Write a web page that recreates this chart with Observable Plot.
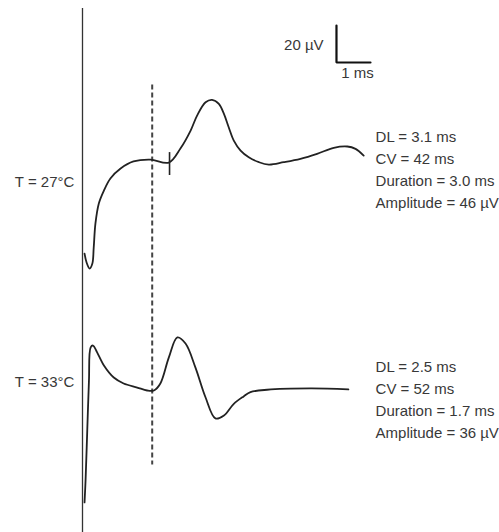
<!DOCTYPE html>
<html>
<head>
<meta charset="utf-8">
<script src="https://cdn.jsdelivr.net/npm/d3@7"></script>
<script src="https://cdn.jsdelivr.net/npm/@observablehq/plot@0.6"></script>
<style>
  html, body { margin: 0; padding: 0; background: #fff; }
</style>
</head>
<body>
<div id="chart"></div>
<script>
// Trace recorded at T = 27°C (time in ms, amplitude in µV relative to baseline)
const t27 = [0.06, 0.12, 0.21, 0.29, 0.33, 0.38, 0.48, 0.63, 0.82, 1.12, 1.50, 2.00, 2.54, 2.88, 3.18, 3.37, 3.62, 3.81, 4.01, 4.16, 4.30, 4.45, 4.65, 4.89, 5.19, 5.48, 5.92, 6.41, 6.90, 7.39, 7.79, 8.03, 8.27];
const v27 = [-50.3, -55.1, -58.4, -55.7, -47.0, -34.1, -23.2, -16.2, -9.7, -4.3, -0.5, 0.5, -1.1, 6.5, 16.2, 24.3, 31.5, 32.8, 30.6, 25.2, 18.0, 10.8, 5.4, 1.8, -0.9, -2.2, -0.9, 0.9, 3.6, 6.9, 7.6, 6.3, 2.7];

// Trace recorded at T = 33°C
const t33 = [0.06, 0.09, 0.14, 0.19, 0.24, 0.31, 0.43, 0.63, 0.92, 1.21, 1.61, 1.90, 2.10, 2.29, 2.54, 2.79, 3.03, 3.32, 3.62, 3.91, 4.16, 4.45, 4.74, 4.94, 5.43, 6.71, 7.82];
const v33 = [-61.6, -49.7, -22.7, 4.3, 22.2, 23.2, 19.5, 12.4, 5.9, 2.7, 0.5, -1.1, -1.1, 2.7, 16.8, 27.6, 24.3, 11.4, -4.9, -16.2, -14.6, -8.3, -4.3, -2.0, -0.7, 0, -0.5];

const traceLabels = ["T = 27°C", "T = 33°C"];
const traceStats = [
  ["DL = 3.1 ms", "CV = 42 ms", "Duration = 3.0 ms", "Amplitude = 46 µV"],
  ["DL = 2.5 ms", "CV = 52 ms", "Duration = 1.7 ms", "Amplitude = 36 µV"]
];
const onsetTime = [2.05];      // dashed reference line (ms)
const markerTime27 = [2.56];   // small tick on the 27°C trace (ms)
const scaleBarMs = 1, scaleBarUV = 20;
const scaleBarLabels = ["20 µV", "1 ms"];

// layout (display offsets, µV units of the y scale)
const offsets = [61.6, -61.6];
const pxPerMs = 34, pxPerUV = 1.85, originX = 82, originY = 274;

const rows27 = t27.map((t, i) => ({t, v: v27[i] + offsets[0]}));
const rows33 = t33.map((t, i) => ({t, v: v33[i] + offsets[1]}));
const sbX = 7.47, sbY = 114.6;
const scaleBar = [
  {t: sbX, v: sbY + scaleBarUV},
  {t: sbX, v: sbY},
  {t: sbX + scaleBarMs, v: sbY}
];

const font = "'Liberation Sans', Arial, sans-serif";
const txt = "#383838";

const chart = Plot.plot({
  width: 499,
  height: 532,
  margin: 0,
  style: {fontFamily: font, fontSize: "15px", background: "#fff", color: txt},
  x: {axis: null, domain: [-2.5, 12.5], range: [originX - 2.5 * pxPerMs, originX + 12.5 * pxPerMs]},
  y: {axis: null, domain: [-150, 150], range: [originY + 150 * pxPerUV, originY - 150 * pxPerUV]},
  marks: [
    // vertical stimulus axis
    Plot.ruleX([0], {y1: 143.8, y2: -150, stroke: "#333", strokeWidth: 1.3}),
    // dashed onset line
    Plot.ruleX(onsetTime, {y1: 102.5, y2: -103, stroke: "#444", strokeWidth: 2, strokeDasharray: "5,3"}),
    // traces
    Plot.line(rows27, {x: "t", y: "v", curve: "catmull-rom", stroke: "#222", strokeWidth: 1.8}),
    Plot.line(rows33, {x: "t", y: "v", curve: "catmull-rom", stroke: "#222", strokeWidth: 1.8}),
    // tick marker on 27°C trace
    Plot.ruleX(markerTime27, {y1: offsets[0] + 4.3, y2: offsets[0] - 8.1, stroke: "#222", strokeWidth: 1.6}),
    // scale bar
    Plot.line(scaleBar, {x: "t", y: "v", stroke: "#111", strokeWidth: 2.2, strokeLinejoin: "miter"}),
    Plot.text([scaleBarLabels[0]], {x: sbX - 0.38, y: sbY + 9.2, text: d => d, textAnchor: "end", fill: txt}),
    Plot.text([scaleBarLabels[1]], {x: sbX + 0.62, y: sbY - 6, text: d => d, textAnchor: "middle", fill: txt}),
    // trace labels
    Plot.text([traceLabels[0]], {x: -0.24, y: offsets[0] - 11.9, text: d => d, textAnchor: "end", fill: txt}),
    Plot.text([traceLabels[1]], {x: -0.24, y: offsets[1] + 3.2, text: d => d, textAnchor: "end", fill: txt}),
    // stats
    Plot.text([traceStats[0].join("\n")], {x: 8.62, y: offsets[0] - 4.0, text: d => d, textAnchor: "start", lineAnchor: "middle", lineHeight: 1.45, fill: txt}),
    Plot.text([traceStats[1].join("\n")], {x: 8.62, y: offsets[1] - 5.2, text: d => d, textAnchor: "start", lineAnchor: "middle", lineHeight: 1.45, fill: txt})
  ]
});
document.getElementById("chart").append(chart);
</script>
</body>
</html>
